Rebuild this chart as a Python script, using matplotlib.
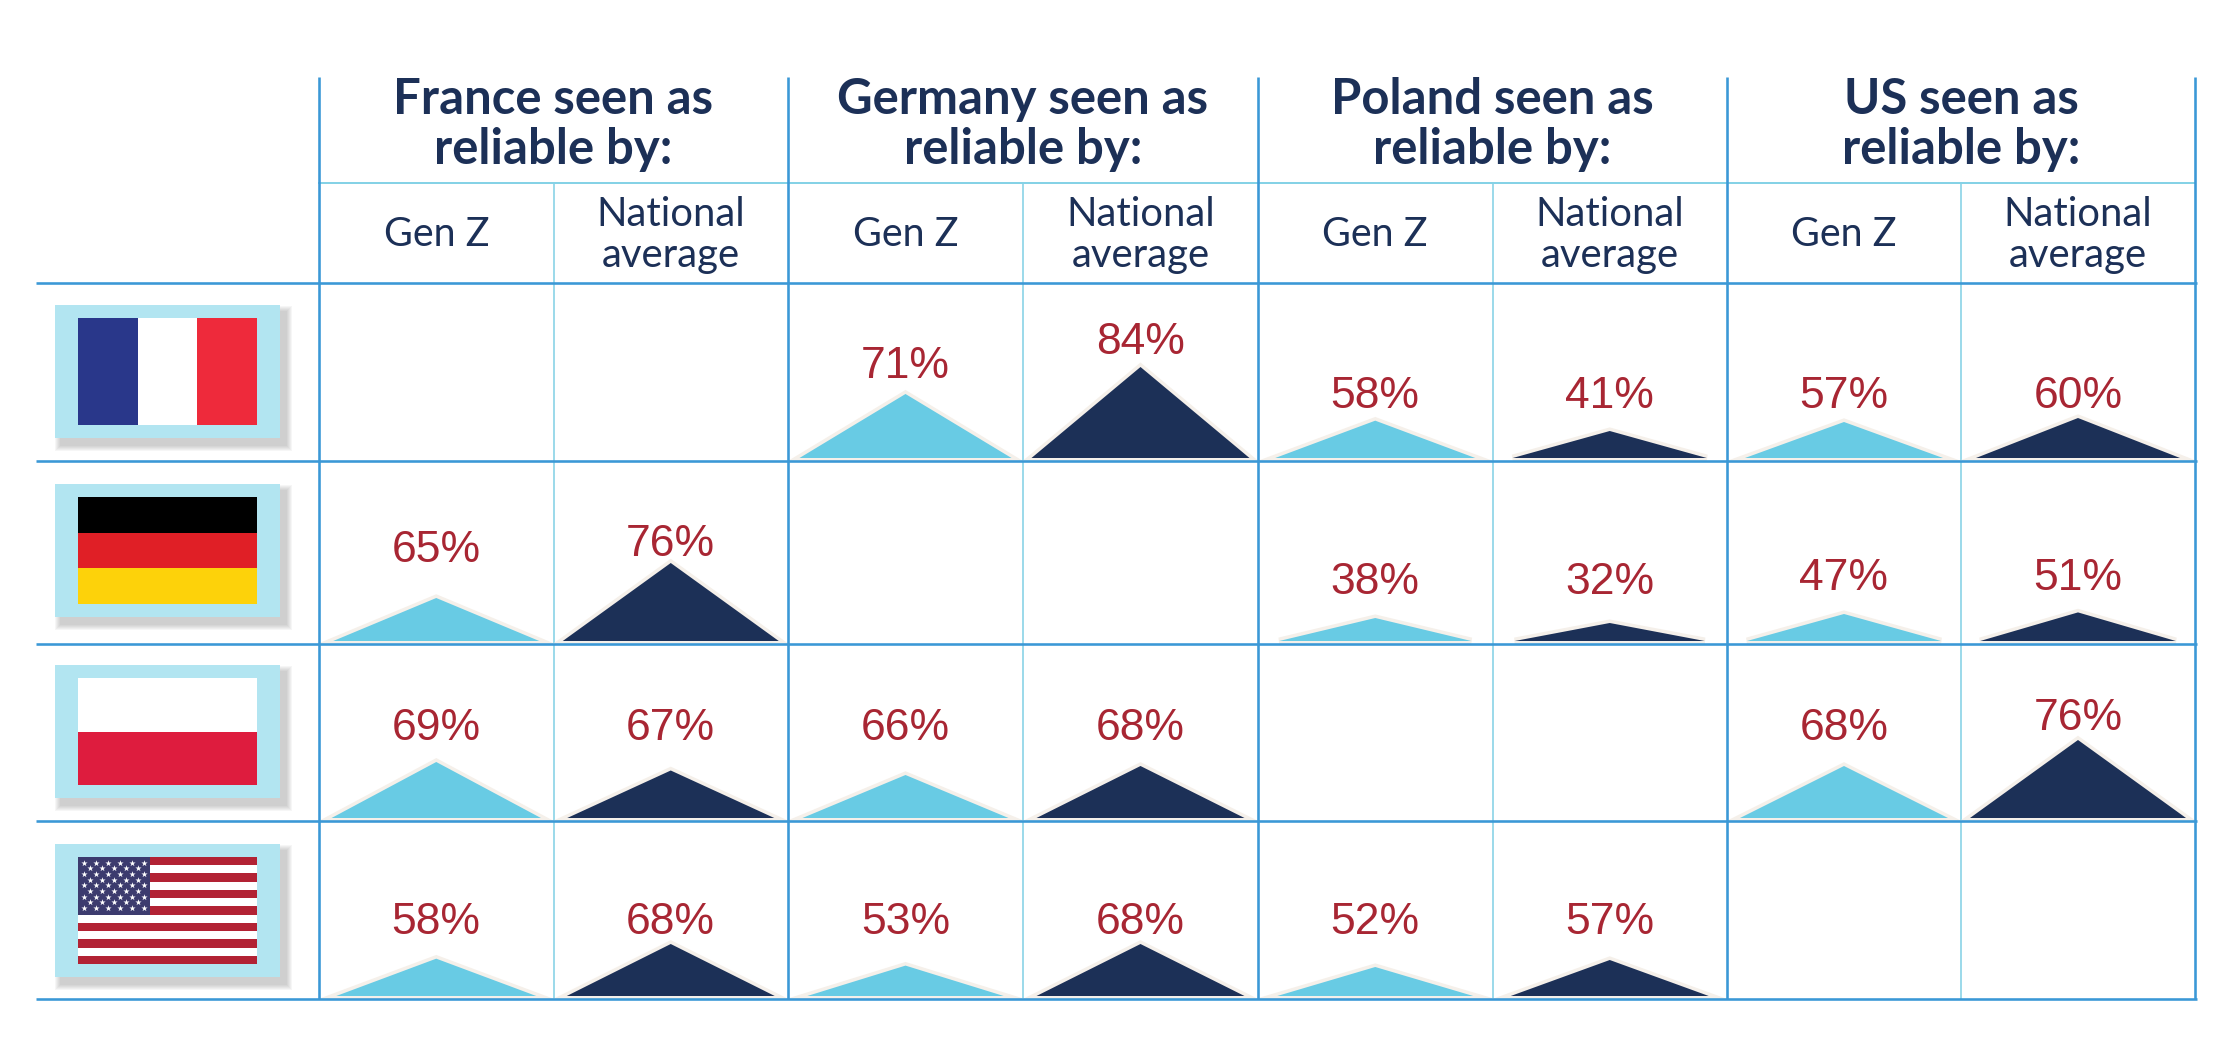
import numpy as np
import matplotlib
matplotlib.use('Agg')
import matplotlib.pyplot as plt
from matplotlib.patches import Polygon, Rectangle

# share seeing each country as reliable, one list per flag row
columns = ['France', 'Germany', 'Poland', 'US']
rows = ['France', 'Germany', 'Poland', 'US']
france_gen_z = [None, 71, 58, 57]
france_national = [None, 84, 41, 60]
germany_gen_z = [65, None, 38, 47]
germany_national = [76, None, 32, 51]
poland_gen_z = [69, 66, None, 68]
poland_national = [67, 68, None, 76]
us_gen_z = [58, 53, 52, None]
us_national = [68, 68, 57, None]

gen_z = [france_gen_z, germany_gen_z, poland_gen_z, us_gen_z]
national = [france_national, germany_national, poland_national, us_national]

NAVY = '#1c3057'
SKY = '#68cbe4'
CREAM = '#f5f0ea'
RED_TEXT = '#a82633'
LINE = '#3b98d6'
LINE_LIGHT = '#85d2e6'
PANEL = '#b2e5f1'

# value -> triangle size, the triangles are not linear in the value
scale_values = [32, 38, 41, 47, 52, 57, 60, 65, 66, 68, 71, 76, 84]
scale_heights = [18, 23, 27, 27, 29, 36, 40, 43, 43, 52, 64, 78, 91]
scale_widths = [190, 192, 194, 194, 196, 198, 204, 206, 206, 208, 212, 216, 218]

# layout, in image pixels
col_x = [319, 788, 1258, 1727, 2195]
row_y = [283, 461, 644, 821, 999]
panel_top = [305, 484, 665, 844]
flag_top = [318, 497, 678, 857]
label_y = [[None, None, 367, 342, 397, 397, 397, 397],
           [550, 545, None, None, 582, 582, 578, 578],
           [729, 729, 729, 729, None, None, 729, 719],
           [923, 923, 923, 923, 923, 923, None, None]]

fig = plt.figure(figsize=(22.34, 10.45), dpi=100)
ax = fig.add_axes([0, 0, 1, 1])
ax.set_xlim(0, 2234)
ax.set_ylim(1045, 0)
ax.axis('off')


def px(n):
    return n * 0.72


def draw_flag(name, top):
    x0, w, h = 78, 179, 107
    if name == 'France':
        for i, c in enumerate(['#29378a', '#ffffff', '#ee2a3b']):
            ax.add_patch(Rectangle((x0 + i * w / 3, top), w / 3, h, color=c, lw=0, zorder=4))
    elif name == 'Germany':
        for i, c in enumerate(['#000000', '#e01f26', '#fdd20a']):
            ax.add_patch(Rectangle((x0, top + i * h / 3), w, h / 3, color=c, lw=0, zorder=4))
    elif name == 'Poland':
        ax.add_patch(Rectangle((x0, top), w, h / 2, color='#ffffff', lw=0, zorder=4))
        ax.add_patch(Rectangle((x0, top + h / 2), w, h / 2, color='#de1c3e', lw=0, zorder=4))
    else:
        s = h / 13
        for i in range(13):
            c = '#b22234' if i % 2 == 0 else '#ffffff'
            ax.add_patch(Rectangle((x0, top + i * s), w, s, color=c, lw=0, zorder=4))
        cw, ch = 72, 7 * s
        ax.add_patch(Rectangle((x0, top), cw, ch, color='#3c3b6e', lw=0, zorder=5))
        xs, ys = [], []
        for r in range(9):
            n = 6 if r % 2 == 0 else 5
            off = 6 if r % 2 == 0 else 12
            for k in range(n):
                xs.append(x0 + off + k * 12)
                ys.append(top + 5.5 + r * 5.7)
        ax.scatter(xs, ys, marker='*', s=22, color='white', linewidths=0, zorder=6)


# flag panels with a soft shadow, only to the right and below
for name, p_top, f_top in zip(rows, panel_top, flag_top):
    for grow in range(12, 0, -2):
        ax.add_patch(Rectangle((55 + 6 - grow / 2, p_top + 7 - grow / 2), 225 + grow, 133 + grow,
                               color='#555555', alpha=0.05, lw=0, zorder=2))
    ax.add_patch(Rectangle((55, p_top), 225, 133, color=PANEL, lw=0, zorder=3))
    draw_flag(name, f_top)

# grid
mid_x = [(a + b) / 2 for a, b in zip(col_x[:-1], col_x[1:])]
ax.plot([319, 2195], [183, 183], color=LINE_LIGHT, lw=px(2), zorder=1)
for x in mid_x:
    ax.plot([x, x], [183, 999], color=LINE_LIGHT, lw=px(1.6), zorder=1)
for y in row_y:
    ax.plot([36, 2197], [y, y], color=LINE, lw=px(2.6), zorder=8, solid_capstyle='butt')
for x in col_x:
    ax.plot([x, x], [77, 999], color=LINE, lw=px(2.6), zorder=8, solid_capstyle='butt')

# header text
for name, x0, x1, x_mid in zip(columns, col_x[:-1], col_x[1:], mid_x):
    ax.text(x_mid, 99, name + ' seen as', ha='center', va='center', color=NAVY,
            fontsize=px(49), fontweight='bold', family='Lato')
    ax.text(x_mid, 149, 'reliable by:', ha='center', va='center', color=NAVY,
            fontsize=px(49), fontweight='bold', family='Lato')
    ax.text((x0 + x_mid) / 2, 234, 'Gen Z', ha='center', va='center', color=NAVY,
            fontsize=px(39.5), family='Lato')
    ax.text((x_mid + x1) / 2, 214, 'National', ha='center', va='center', color=NAVY,
            fontsize=px(40), family='Lato')
    ax.text((x_mid + x1) / 2, 256, 'average', ha='center', va='center', color=NAVY,
            fontsize=px(40), family='Lato')

# triangles and labels
for r in range(4):
    base = row_y[r + 1] - 3
    for c in range(4):
        x_mid = mid_x[c]
        for j, (series, colour) in enumerate([(gen_z, SKY), (national, NAVY)]):
            value = series[r][c]
            if value is None:
                continue
            cx = (col_x[c] + x_mid) / 2 if j == 0 else (x_mid + col_x[c + 1]) / 2
            h = np.interp(value, scale_values, scale_heights)
            w = np.interp(value, scale_values, scale_widths)
            pts = [(cx - w / 2, base), (cx, base - h), (cx + w / 2, base)]
            ax.add_patch(Polygon(pts, closed=True, facecolor=CREAM, edgecolor=CREAM,
                                 lw=px(7), joinstyle='miter', zorder=6))
            ax.add_patch(Polygon(pts, closed=True, facecolor=colour, edgecolor='none', zorder=7))
            ax.text(cx, label_y[r][c * 2 + j], f'{value}%', ha='center', va='center',
                    color=RED_TEXT, fontsize=px(44.5), family='Liberation Sans', zorder=9)

fig.savefig('out.png', dpi=100, facecolor='white')
